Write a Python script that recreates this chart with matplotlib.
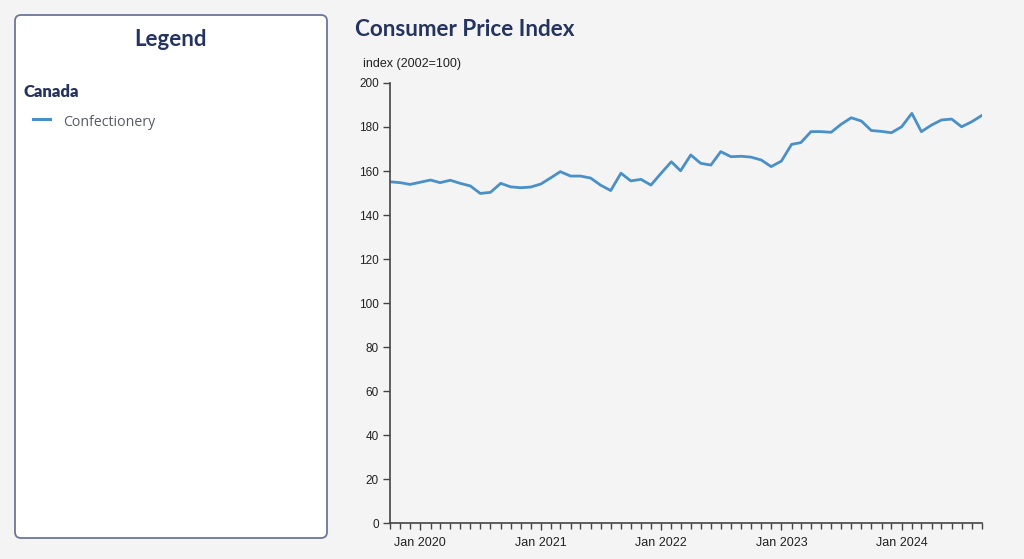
import pandas as pd
import matplotlib
matplotlib.use('Agg')
import matplotlib.pyplot as plt
import matplotlib.dates as mdates
from matplotlib.patches import FancyBboxPatch

# monthly CPI, confectionery, Canada (2002=100), Oct 2019 .. Sep 2024
start_month = '2019-10-01'
cpi_values = [
    155.1, 154.7, 153.9,
    154.9, 155.9, 154.7, 155.8, 154.4, 153.2, 149.8, 150.3, 154.4, 152.8, 152.4, 152.7,
    154.1, 157.0, 159.7, 157.7, 157.7, 156.8, 153.6, 151.1, 159.0, 155.5, 156.2, 153.6,
    159.0, 164.2, 160.1, 167.3, 163.5, 162.7, 168.8, 166.5, 166.7, 166.3, 165.0, 162.0,
    164.5, 172.1, 172.9, 177.9, 177.9, 177.6, 181.2, 184.2, 182.7, 178.4, 178.0, 177.4,
    180.1, 186.2, 177.9, 180.9, 183.2, 183.6, 180.1, 182.4, 185.3,
]
months = pd.date_range(start_month, periods=len(cpi_values), freq='MS')
y_ticks = list(range(0, 201, 20))

W, H = 1024, 559
bg = '#f4f4f4'
navy = '#24345f'
line_color = '#4a90c8'

fig = plt.figure(figsize=(W / 100, H / 100), dpi=100, facecolor=bg)

# background layer in pixel units for the legend panel
bg_ax = fig.add_axes([0, 0, 1, 1], zorder=0)
bg_ax.set_xlim(0, W)
bg_ax.set_ylim(H, 0)
bg_ax.axis('off')
bg_ax.add_patch(FancyBboxPatch((15, 15), 312, 523,
                               boxstyle='round,pad=0,rounding_size=6',
                               facecolor='white', edgecolor='#6b7698', linewidth=1.3))
bg_ax.text(171, 39, 'Legend', ha='center', va='center', fontsize=16,
           fontweight='bold', family='Lato', color=navy)
bg_ax.text(24, 92, 'Canada', ha='left', va='center', fontsize=12,
           fontweight='heavy', family='Lato', color=navy)
bg_ax.plot([33, 50], [119, 119], color=line_color, linewidth=2.2)
bg_ax.text(63, 122, 'Confectionery', ha='left', va='center', fontsize=10.2,
           family='Open Sans', color='#555a66')
bg_ax.text(355, 29, 'Consumer Price Index', ha='left', va='center', fontsize=16.2,
           fontweight='bold', family='Lato', color=navy)
bg_ax.text(363, 64, 'index (2002=100)', ha='left', va='center', fontsize=9,
           family='Liberation Sans', color='#222222')

# main chart
left, right, top, bottom = 390, 982, 83, 523
ax = fig.add_axes([left / W, (H - bottom) / H, (right - left) / W, (bottom - top) / H], zorder=1)
ax.set_facecolor('none')
ax.plot(months, cpi_values, color=line_color, linewidth=2)

ax.set_xlim(months[0], months[-1])
ax.set_ylim(0, 200)
ax.set_yticks(y_ticks)
ax.xaxis.set_major_locator(mdates.MonthLocator(bymonth=1))
ax.xaxis.set_major_formatter(mdates.DateFormatter('%b %Y'))
ax.xaxis.set_minor_locator(mdates.MonthLocator())

for side in ['top', 'right']:
    ax.spines[side].set_visible(False)
for side in ['left', 'bottom']:
    ax.spines[side].set_color('#444444')
    ax.spines[side].set_linewidth(1.2)

ax.tick_params(axis='y', which='major', length=5, width=1, color='#444444',
               labelsize=8.5, labelcolor='#222222', pad=3)
ax.tick_params(axis='x', which='major', length=5, width=1, color='#444444',
               labelsize=9, labelcolor='#222222', pad=5)
ax.tick_params(axis='x', which='minor', length=4, width=1, color='#444444')
for lbl in ax.get_xticklabels() + ax.get_yticklabels():
    lbl.set_family('Liberation Sans')

fig.savefig('out.png', dpi=100, facecolor=bg)
